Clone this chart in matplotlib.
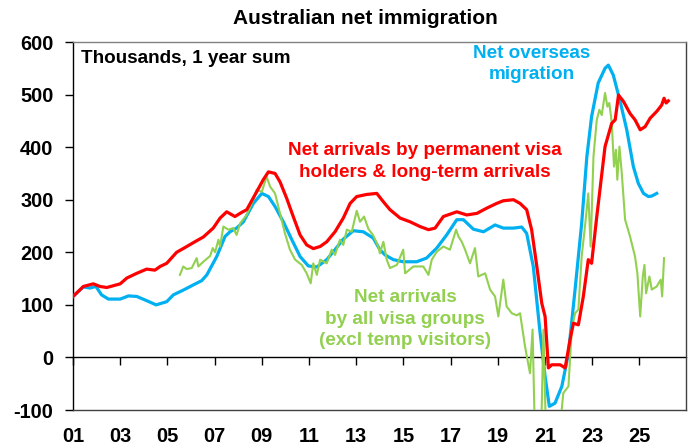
import matplotlib
matplotlib.use("Agg")
import matplotlib.pyplot as plt

plt.rcParams['font.family'] = ['Liberation Sans', 'DejaVu Sans']
plt.rcParams['font.weight'] = 'bold'

# ---- data (thousands, 1 year sum) ----
red_x = [2001.0, 2001.44, 2001.86, 2002.14, 2002.43, 2003.0, 2003.28, 2003.70, 2004.12, 2004.47,
         2004.69, 2004.97, 2005.39, 2005.82, 2006.24, 2006.52, 2006.94, 2007.23, 2007.51, 2007.86,
         2008.15, 2008.36, 2008.78, 2009.06, 2009.28, 2009.56, 2009.77, 2010.05, 2010.33, 2010.62,
         2010.90, 2011.18, 2011.47, 2011.75, 2012.10, 2012.45, 2012.74, 2013.02, 2013.44, 2013.87,
         2014.15, 2014.43, 2014.86, 2015.28, 2015.70, 2016.06, 2016.34, 2016.69, 2017.26, 2017.68,
         2018.11, 2018.53, 2018.95, 2019.23, 2019.66, 2019.94, 2020.22, 2020.43, 2020.65, 2020.86,
         2021.0, 2021.14, 2021.28, 2021.64, 2021.85, 2022.06, 2022.20, 2022.41, 2022.62, 2022.83,
         2022.97, 2023.19, 2023.54, 2023.82, 2023.97, 2024.11, 2024.32, 2024.60, 2024.81, 2025.03,
         2025.24, 2025.45, 2025.73, 2025.94, 2026.04, 2026.13, 2026.22]
red_v = [116, 135, 140, 135, 133, 140, 151, 160, 168, 166,
         173, 179, 200, 211, 222, 229, 246, 265, 277, 268,
         276, 281, 315, 338, 353, 350, 334, 303, 268, 233,
         214, 207, 211, 220, 239, 265, 293, 306, 310, 312,
         296, 281, 265, 258, 249, 243, 246, 268, 277, 271,
         274, 284, 293, 298, 300, 293, 281, 243, 173, 103,
         78, -20, -14, -14, -20, 34, 65, 62, 116, 186,
         179, 268, 401, 445, 452, 499, 487, 464, 452, 433,
         439, 455, 468, 480, 493, 484, 488]

blue_x = [2001.0, 2001.44, 2001.72, 2001.97, 2002.21, 2002.50, 2003.0, 2003.35, 2003.70, 2004.12,
          2004.52, 2004.97, 2005.25, 2005.67, 2006.10, 2006.45, 2006.67, 2007.09, 2007.44, 2007.65,
          2007.93, 2008.22, 2008.64, 2009.0, 2009.28, 2009.56, 2009.91, 2010.27, 2010.62, 2010.97,
          2011.33, 2011.75, 2012.10, 2012.45, 2012.88, 2013.30, 2013.72, 2014.0, 2014.22, 2014.57,
          2014.99, 2015.56, 2015.98, 2016.41, 2016.83, 2017.26, 2017.54, 2017.96, 2018.39, 2018.88,
          2019.23, 2019.66, 2020.01, 2020.22, 2020.50, 2020.79, 2021.0, 2021.18, 2021.42, 2021.71,
          2021.99, 2022.27, 2022.55, 2022.77, 2022.97, 2023.25, 2023.54, 2023.68, 2023.89, 2024.18,
          2024.46, 2024.74, 2024.95, 2025.17, 2025.38, 2025.52, 2025.73]
blue_v = [116, 134, 132, 135, 119, 111, 111, 117, 116, 108,
          100, 106, 119, 128, 138, 146, 157, 192, 230, 239,
          246, 258, 293, 312, 306, 287, 258, 224, 192, 174,
          172, 186, 205, 225, 241, 239, 227, 205, 195, 186,
          182, 182, 189, 208, 233, 262, 262, 244, 239, 252,
          246, 246, 248, 236, 173, 46, -36, -93, -87, -55,
          8, 129, 255, 382, 458, 522, 550, 556, 537, 487,
          433, 363, 331, 312, 306, 307, 312]

green_x = [2005.53, 2005.67, 2005.82, 2006.03, 2006.24, 2006.31, 2006.52, 2006.81, 2006.92, 2007.02,
           2007.16, 2007.23, 2007.37, 2007.58, 2007.79, 2007.93, 2008.08, 2008.36, 2008.64, 2008.78,
           2009.0, 2009.20, 2009.35, 2009.56, 2009.77, 2009.98, 2010.19, 2010.41, 2010.69, 2010.90,
           2011.07, 2011.18, 2011.33, 2011.47, 2011.75, 2011.96, 2012.10, 2012.31, 2012.45, 2012.60,
           2012.81, 2013.02, 2013.16, 2013.33, 2013.51, 2013.72, 2013.94, 2014.0, 2014.15, 2014.29,
           2014.43, 2014.72, 2014.99, 2015.07, 2015.42, 2015.84, 2016.06, 2016.20, 2016.41, 2016.69,
           2016.97, 2017.23, 2017.33, 2017.47, 2017.61, 2017.82, 2018.03, 2018.17, 2018.46, 2018.67,
           2018.88, 2019.02, 2019.23, 2019.37, 2019.59, 2019.80, 2019.94, 2020.15, 2020.36, 2020.47,
           2020.57, 2020.83, 2020.93, 2021.04, 2021.6, 2021.77, 2021.99, 2022.13, 2022.27, 2022.41,
           2022.55, 2022.69, 2022.83, 2022.93, 2023.05, 2023.19, 2023.30, 2023.40, 2023.54, 2023.64,
           2023.72, 2023.82, 2023.92, 2024.0, 2024.06, 2024.15, 2024.25, 2024.39, 2024.60, 2024.81,
           2024.91, 2025.03, 2025.14, 2025.21, 2025.28, 2025.42, 2025.52, 2025.73, 2025.90, 2025.96,
           2026.04]
green_v = [157, 173, 168, 170, 189, 173, 182, 193, 208, 200,
           224, 211, 249, 243, 246, 233, 255, 271, 300, 319,
           315, 344, 325, 312, 274, 236, 205, 186, 176, 160,
           141, 179, 157, 186, 179, 205, 195, 224, 214, 243,
           239, 279, 258, 268, 245, 232, 210, 198, 220, 186,
           170, 176, 205, 160, 173, 173, 157, 186, 201, 211,
           205, 243, 230, 220, 205, 179, 208, 154, 160, 129,
           116, 78, 148, 97, 84, 80, 84, 21, -30, 53,
           -150, -150, 53, -150, -150, -68, -55, 53, 84, 91,
           192, 249, 312, 211, 382, 452, 471, 461, 503, 477,
           484, 449, 363, 395, 338, 401, 350, 262, 230, 192,
           160, 78, 154, 176, 122, 154, 129, 135, 148, 116,
           189]

x_ticks = [2001, 2003, 2005, 2007, 2009, 2011, 2013, 2015, 2017, 2019, 2021, 2023, 2025]
x_labels = ['01', '03', '05', '07', '09', '11', '13', '15', '17', '19', '21', '23', '25']
y_ticks = [-100, 0, 100, 200, 300, 400, 500, 600]

RED = '#FF0000'
BLUE = '#00B0F0'
GREEN = '#92D050'

fig = plt.figure(figsize=(6.91, 4.46), dpi=100)
ax = fig.add_axes([73 / 691, 1 - 410 / 446, 613 / 691, 368 / 446])

ax.plot(blue_x, blue_v, color=BLUE, lw=2.3, zorder=3)
ax.plot(green_x, green_v, color=GREEN, lw=1.5, zorder=4)
ax.plot(red_x, red_v, color=RED, lw=2.3, zorder=5)

ax.set_xlim(2001.0, 2026.97)
ax.set_ylim(-100, 600)

ax.set_yticks(y_ticks)
ax.set_yticklabels([str(v) for v in y_ticks])
ax.tick_params(axis='y', direction='out', length=6, width=1, pad=8,
               labelsize=14.4, colors='black')
ax.set_xticks(x_ticks)
ax.set_xticklabels(x_labels)
ax.tick_params(axis='x', length=0, pad=12, labelsize=14.4)
for lab in ax.get_xticklabels() + ax.get_yticklabels():
    lab.set_fontweight('bold')

ax.spines['left'].set_color('black')
ax.spines['top'].set_color('#808080')
ax.spines['right'].set_color('#404040')
ax.spines['bottom'].set_color('#404040')
for s in ax.spines.values():
    s.set_linewidth(1.0)

# zero line with downward tick marks
sec = ax.secondary_xaxis(100 / 700)
sec.set_xticks(x_ticks)
sec.xaxis.set_ticks_position('bottom')
sec.tick_params(axis='x', direction='out', length=6, width=1, labelbottom=False,
                labeltop=False, colors='black')
sec.spines['bottom'].set_color('black')
sec.spines['bottom'].set_linewidth(1.0)
sec.spines['top'].set_visible(False)

fig.text(365 / 691, 1 - 18 / 446, 'Australian net immigration', ha='center', va='center',
         fontsize=15, fontweight='bold')

ax.text(2001.34, 569, 'Thousands, 1 year sum', ha='left', va='center',
        fontsize=13.6, fontweight='bold', color='black')
ax.text(2020.45, 558, 'Net overseas\nmigration', ha='center', va='center',
        fontsize=13.6, fontweight='bold', color=BLUE, linespacing=1.34)
ax.text(2015.92, 373, 'Net arrivals by permanent visa\nholders & long-term arrivals',
        ha='center', va='center', fontsize=13.6, fontweight='bold', color=RED, linespacing=1.34)
ax.text(2015.07, 73, 'Net arrivals\nby all visa groups\n(excl temp visitors)',
        ha='center', va='center', fontsize=13.6, fontweight='bold', color=GREEN, linespacing=1.34)

fig.savefig('out.png', dpi=100)
